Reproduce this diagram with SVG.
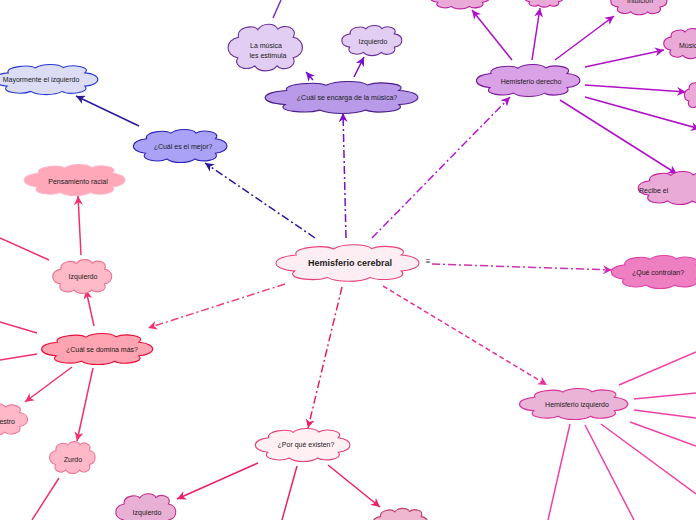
<svg xmlns="http://www.w3.org/2000/svg" xmlns:xlink="http://www.w3.org/1999/xlink" width="696" height="520" viewBox="0 0 696 520">
<style>
text{font-family:"Liberation Sans","DejaVu Sans",sans-serif;font-size:7px;fill:#1a1a1a;text-anchor:middle}
.title{font-size:9px;font-weight:bold}
.c{stroke-width:1.1}
.cn line,.cn path{fill:none;stroke-width:1.5}
.dd{stroke-dasharray:8 3 2 3}
.ds{stroke-dasharray:5 3}
</style>
<defs>
<path id="cloud" vector-effect="non-scaling-stroke" d="M15,30 C12,10 35,4 40,15 C46,1 62,1 66,14 C73,3 93,10 86,30 C102,34 102,66 86,70 C92,91 70,97 65,86 C58,99 42,99 36,86 C28,97 7,90 14,70 C-3,65 -3,35 15,30 Z"/>
<marker id="aBlue" viewBox="0 0 10 10" refX="10" refY="5" markerWidth="9" markerHeight="9" markerUnits="userSpaceOnUse" orient="auto"><path d="M0,0 L10,5 L0,10 L3,5 Z" fill="#2a1a9a"/></marker>
<marker id="aPur" viewBox="0 0 10 10" refX="10" refY="5" markerWidth="9" markerHeight="9" markerUnits="userSpaceOnUse" orient="auto"><path d="M0,0 L10,5 L0,10 L3,5 Z" fill="#7a10c8"/></marker>
<marker id="aMag" viewBox="0 0 10 10" refX="10" refY="5" markerWidth="9" markerHeight="9" markerUnits="userSpaceOnUse" orient="auto"><path d="M0,0 L10,5 L0,10 L3,5 Z" fill="#b010c8"/></marker>
<marker id="aCtl" viewBox="0 0 10 10" refX="10" refY="5" markerWidth="9" markerHeight="9" markerUnits="userSpaceOnUse" orient="auto"><path d="M0,0 L10,5 L0,10 L3,5 Z" fill="#d030b0"/></marker>
<marker id="aRed" viewBox="0 0 10 10" refX="10" refY="5" markerWidth="9" markerHeight="9" markerUnits="userSpaceOnUse" orient="auto"><path d="M0,0 L10,5 L0,10 L3,5 Z" fill="#f03070"/></marker>
<marker id="aRose" viewBox="0 0 10 10" refX="10" refY="5" markerWidth="9" markerHeight="9" markerUnits="userSpaceOnUse" orient="auto"><path d="M0,0 L10,5 L0,10 L3,5 Z" fill="#e8206a"/></marker>
<marker id="aPink" viewBox="0 0 10 10" refX="10" refY="5" markerWidth="9" markerHeight="9" markerUnits="userSpaceOnUse" orient="auto"><path d="M0,0 L10,5 L0,10 L3,5 Z" fill="#e8309a"/></marker>
</defs>
<rect width="696" height="520" fill="#ffffff"/>

<g id="connectors" class="cn">
<line class="dd" x1="315" y1="238" x2="205" y2="163" stroke="#2a1a9a" marker-end="url(#aBlue)"/>
<line x1="139" y1="126" x2="76" y2="96" stroke="#2a1aa0" marker-end="url(#aBlue)"/>
<line class="dd" x1="346" y1="238" x2="343" y2="113" stroke="#7a10c8" marker-end="url(#aPur)"/>
<line x1="313" y1="80" x2="306" y2="72" stroke="#7a10c8" marker-end="url(#aPur)"/>
<line x1="354" y1="77" x2="364" y2="57" stroke="#7a10c8" marker-end="url(#aPur)"/>
<line x1="273" y1="18" x2="281" y2="0" stroke="#7a30c0"/>
<line class="dd" x1="372" y1="238" x2="510" y2="97" stroke="#b818d8" marker-end="url(#aMag)"/>
<line x1="512" y1="60" x2="472" y2="10" stroke="#b010c8" marker-end="url(#aMag)"/>
<line x1="532" y1="60" x2="540" y2="8" stroke="#b010c8" marker-end="url(#aMag)"/>
<line x1="555" y1="60" x2="614" y2="16" stroke="#b010c8" marker-end="url(#aMag)"/>
<line x1="585" y1="67" x2="664" y2="50" stroke="#b010c8" marker-end="url(#aMag)"/>
<line x1="585" y1="85" x2="686" y2="92" stroke="#b010c8" marker-end="url(#aMag)"/>
<line x1="585" y1="97" x2="700" y2="129" stroke="#b010c8" marker-end="url(#aMag)"/>
<line x1="560" y1="100" x2="677" y2="174" stroke="#b010c8" marker-end="url(#aMag)"/>
<line class="dd" x1="432" y1="264" x2="612" y2="270" stroke="#d030b0" marker-end="url(#aCtl)"/>
<line class="dd" x1="285" y1="284" x2="148" y2="328" stroke="#f04080" marker-end="url(#aRed)"/>
<line x1="94" y1="326" x2="86" y2="290" stroke="#f03070" marker-end="url(#aRed)"/>
<line x1="37" y1="333" x2="0" y2="322" stroke="#f03070"/>
<line x1="37" y1="354" x2="0" y2="360" stroke="#f03070"/>
<line x1="72" y1="367" x2="25" y2="402" stroke="#f03070" marker-end="url(#aRed)"/>
<line x1="93" y1="368" x2="77" y2="441" stroke="#f03070" marker-end="url(#aRed)"/>
<line x1="59" y1="478" x2="32" y2="520" stroke="#f03070"/>
<line x1="81" y1="255" x2="78" y2="196" stroke="#f03070" marker-end="url(#aRed)"/>
<line x1="49" y1="260" x2="0" y2="238" stroke="#f03070"/>
<line class="dd" x1="342" y1="287" x2="308" y2="428" stroke="#e8206a" marker-end="url(#aRose)"/>
<line x1="258" y1="463" x2="177" y2="499" stroke="#e8206a" marker-end="url(#aRose)"/>
<line x1="297" y1="466" x2="282" y2="520" stroke="#e8206a"/>
<line x1="328" y1="465" x2="380" y2="507" stroke="#e8206a" marker-end="url(#aRose)"/>
<line class="ds" x1="383" y1="286" x2="547" y2="385" stroke="#e8309a" marker-end="url(#aPink)"/>
<line x1="619" y1="385" x2="696" y2="352" stroke="#f040a8"/>
<line x1="634" y1="399" x2="696" y2="393" stroke="#f040a8"/>
<line x1="634" y1="410" x2="696" y2="418" stroke="#f040a8"/>
<line x1="630" y1="422" x2="696" y2="446" stroke="#f040a8"/>
<line x1="601" y1="424" x2="696" y2="494" stroke="#f040a8"/>
<line x1="585" y1="425" x2="634" y2="520" stroke="#f040a8"/>
<line x1="570" y1="424" x2="548" y2="520" stroke="#f040a8"/>
</g>

<g id="n-central"><use xlink:href="#cloud" class="c" fill="#fdeef3" stroke="#e8407a" transform="translate(274,243) scale(1.48,0.40)"/><text class="title" x="350" y="266">Hemisferio cerebral</text><text x="428" y="264" style="font-size:8px">≡</text></g>
<g id="n-mejor"><use xlink:href="#cloud" class="c" fill="#a9a2f7" stroke="#2a22b8" transform="translate(132,128) scale(0.97,0.36)"/><text x="183" y="148.5">¿Cuál es el mejor?</text></g>
<g id="n-mayormente"><use xlink:href="#cloud" class="c" fill="#dcdcf5" stroke="#2a3ad0" transform="translate(-8,63) scale(1.08,0.33)"/><text x="41" y="82">Mayormente el izquierdo</text></g>
<g id="n-musica"><use xlink:href="#cloud" class="c" fill="#b89ae8" stroke="#4a1a8a" transform="translate(263,80) scale(1.58,0.35)"/><text x="347" y="100">¿Cuál se encarga de la música?</text></g>
<g id="n-estimula"><use xlink:href="#cloud" class="c" fill="#e2cdf3" stroke="#6a3098" transform="translate(227,22) scale(0.77,0.51)"/><text x="266" y="48">La música</text><text x="268" y="58">les estimula</text></g>
<g id="n-izq-top"><use xlink:href="#cloud" class="c" fill="#e2cdf3" stroke="#6a3098" transform="translate(341,24) scale(0.62,0.33)"/><text x="373" y="44">Izquierdo</text></g>
<g id="n-derecho"><use xlink:href="#cloud" class="c" fill="#d9a2e6" stroke="#7a1a9a" transform="translate(475,63) scale(1.07,0.35)"/><text x="531" y="84">Hemisferio derecho</text></g>
<g id="n-top1"><use xlink:href="#cloud" class="c" fill="#eaaad8" stroke="#c020a0" transform="translate(429,-16) scale(0.62,0.26)"/></g>
<g id="n-top2"><use xlink:href="#cloud" class="c" fill="#eaaad8" stroke="#c020a0" transform="translate(524,-13) scale(0.40,0.21)"/></g>
<g id="n-intuicion"><use xlink:href="#cloud" class="c" fill="#eaaad8" stroke="#c020a0" transform="translate(610,-14) scale(0.58,0.30)"/><text x="640" y="3">Intuición</text></g>
<g id="n-musica-r"><use xlink:href="#cloud" class="c" fill="#eaaad8" stroke="#c020a0" transform="translate(663,27) scale(0.55,0.33)"/><text x="679" y="48" style="text-anchor:start">Música</text></g>
<g id="n-r2"><use xlink:href="#cloud" class="c" fill="#eaaad8" stroke="#c020a0" transform="translate(684,80) scale(0.35,0.30)"/></g>
<g id="n-recibe"><use xlink:href="#cloud" class="c" fill="#eaaad8" stroke="#c020a0" transform="translate(637,170) scale(0.85,0.36)"/><text x="639" y="193" style="text-anchor:start">Recibe el</text></g>
<g id="n-controlan"><use xlink:href="#cloud" class="c" fill="#ee80c2" stroke="#e040a8" transform="translate(610,254) scale(1.0,0.36)"/><text x="658" y="275">¿Qué controlan?</text></g>
<g id="n-domina"><use xlink:href="#cloud" class="c" fill="#ffa4b2" stroke="#e8103a" transform="translate(40,332) scale(1.15,0.34)"/><text x="102" y="352">¿Cuál se domina más?</text></g>
<g id="n-izq-pink"><use xlink:href="#cloud" class="c" fill="#ffbac8" stroke="#f07090" transform="translate(52,258) scale(0.61,0.37)"/><text x="83" y="279">Izquierdo</text></g>
<g id="n-racial"><use xlink:href="#cloud" class="c" fill="#ffa8ba" stroke="#ffb4c4" transform="translate(23,163) scale(1.04,0.34)"/><text x="78" y="184">Pensamiento racial</text></g>
<g id="n-diestro"><use xlink:href="#cloud" class="c" fill="#ffb8c8" stroke="#f07898" transform="translate(-40,402) scale(0.69,0.35)"/><text x="15" y="424" style="text-anchor:end">Diestro</text></g>
<g id="n-zurdo"><use xlink:href="#cloud" class="c" fill="#ffb8c8" stroke="#f07898" transform="translate(49,440) scale(0.47,0.35)"/><text x="73" y="462">Zurdo</text></g>
<g id="n-porque"><use xlink:href="#cloud" class="c" fill="#fff0f4" stroke="#e0407a" transform="translate(254,427) scale(0.98,0.36)"/><text x="306" y="447">¿Por qué existen?</text></g>
<g id="n-izq-bottom"><use xlink:href="#cloud" class="c" fill="#e8b0d4" stroke="#c03090" transform="translate(115,492) scale(0.62,0.40)"/><text x="147" y="515">Izquierdo</text></g>
<g id="n-bottom-r"><use xlink:href="#cloud" class="c" fill="#f0b8d0" stroke="#c04070" transform="translate(372,507) scale(0.57,0.32)"/></g>
<g id="n-hem-izq"><use xlink:href="#cloud" class="c" fill="#eab4d6" stroke="#d8309a" transform="translate(518,387) scale(1.12,0.34)"/><text x="577" y="407">Hemisferio izquierdo</text></g>
</svg>
